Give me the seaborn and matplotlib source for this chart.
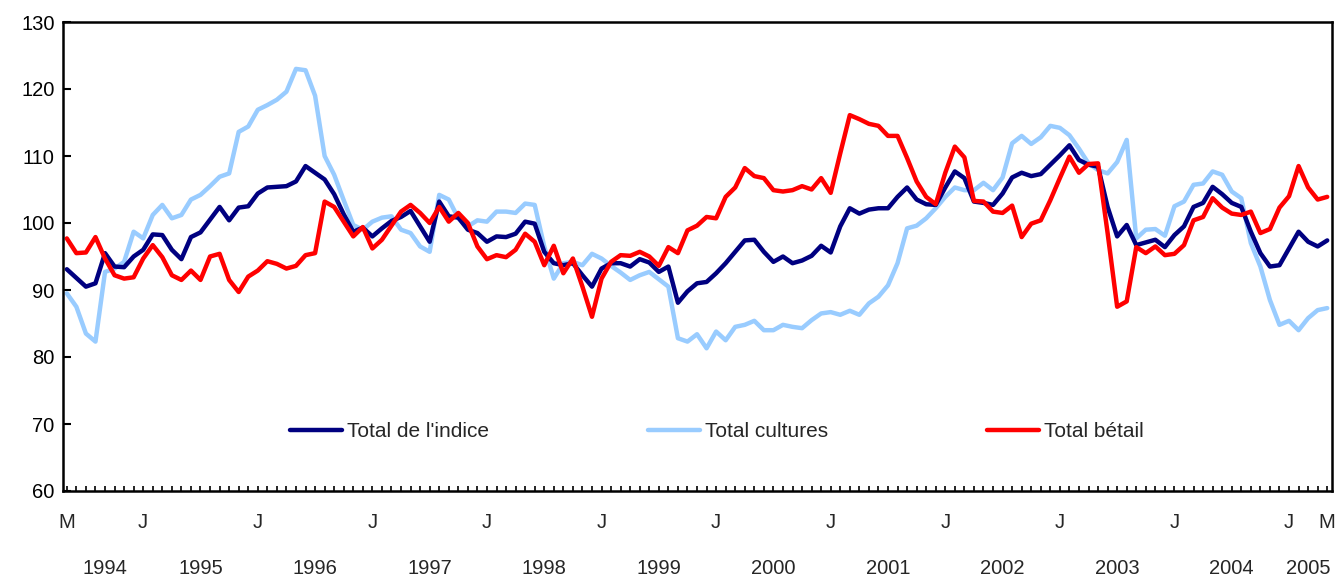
import pandas as pd
import matplotlib.pyplot as plt
import matplotlib.transforms as mtransforms
import seaborn as sns

# mai 1994 -> mai 2005, données mensuelles
mois = pd.date_range('1994-05-01', periods=133, freq='MS')

indice = [93.1, 91.8, 90.5, 91.0, 95.5, 93.5, 93.4, 95.0, 96.0, 98.3,
          98.2, 96.0, 94.6, 97.9, 98.6, 100.5, 102.4, 100.4, 102.3, 102.5,
          104.4, 105.3, 105.4, 105.5, 106.2, 108.5, 107.5, 106.5, 104.3, 101.3,
          98.7, 99.3, 98.0, 99.2, 100.3, 100.9, 101.8, 99.5, 97.2, 103.2,
          101.0, 100.8, 99.0, 98.5, 97.2, 98.0, 97.9, 98.4, 100.2, 99.9,
          95.7, 94.0, 93.7, 94.0, 92.2, 90.5, 93.2, 94.0, 94.0, 93.5,
          94.6, 94.1, 92.7, 93.5, 88.1, 89.8, 91.0, 91.2, 92.5, 94.0,
          95.7, 97.4, 97.5, 95.7, 94.2, 95.0, 94.0, 94.4, 95.1, 96.6,
          95.6, 99.5, 102.2, 101.4, 102.0, 102.2, 102.2, 103.9, 105.3, 103.5,
          102.8, 102.7, 105.3, 107.7, 106.7, 103.2, 103.0, 102.7, 104.4, 106.8,
          107.5, 107.0, 107.3, 108.7, 110.1, 111.6, 109.4, 108.7, 108.4, 102.4,
          98.0, 99.7, 96.7, 97.1, 97.5, 96.4, 98.2, 99.5, 102.4, 103.0,
          105.4, 104.3, 103.0, 102.4, 98.7, 95.5, 93.5, 93.7, 96.2, 98.7,
          97.2, 96.5, 97.4]

cultures = [89.5, 87.5, 83.5, 82.3, 92.7, 93.2, 94.2, 98.7, 97.7, 101.2,
            102.7, 100.7, 101.2, 103.5, 104.2, 105.5, 106.9, 107.4, 113.6, 114.4,
            116.9, 117.6, 118.4, 119.6, 123.0, 122.8, 119.0, 110.0, 107.2, 103.4,
            99.7, 99.0, 100.2, 100.8, 101.0, 99.0, 98.5, 96.5, 95.7, 104.2,
            103.5, 100.7, 99.5, 100.4, 100.2, 101.7, 101.7, 101.5, 102.9, 102.7,
            96.5, 91.7, 94.0, 94.2, 93.7, 95.4, 94.7, 93.6, 92.6, 91.5,
            92.2, 92.7, 91.6, 90.5, 82.8, 82.3, 83.4, 81.3, 83.8, 82.5,
            84.5, 84.8, 85.4, 84.0, 84.0, 84.8, 84.5, 84.3, 85.5, 86.5,
            86.7, 86.3, 86.9, 86.3, 88.0, 89.0, 90.7, 94.0, 99.2, 99.6,
            100.7, 102.2, 103.9, 105.3, 104.9, 104.9, 106.0, 104.9, 106.8, 111.9,
            113.0, 111.8, 112.8, 114.5, 114.2, 113.1, 111.1, 108.9, 107.9, 107.4,
            109.1, 112.4, 97.7, 99.0, 99.1, 98.1, 102.5, 103.2, 105.7, 105.9,
            107.7, 107.2, 104.7, 103.7, 97.0, 93.5, 88.5, 84.8, 85.4, 84.0,
            85.8, 87.0, 87.3]

betail = [97.7, 95.5, 95.6, 97.9, 94.7, 92.2, 91.7, 91.9, 94.7, 96.7,
          94.9, 92.2, 91.5, 92.9, 91.5, 95.0, 95.4, 91.5, 89.7, 92.0,
          92.9, 94.3, 93.9, 93.2, 93.6, 95.2, 95.5, 103.2, 102.4, 100.2,
          98.0, 99.4, 96.2, 97.5, 99.6, 101.7, 102.7, 101.5, 100.0, 102.4,
          100.2, 101.5, 100.0, 96.5, 94.6, 95.2, 94.9, 96.0, 98.4, 97.2,
          93.7, 96.6, 92.5, 94.7, 90.5, 86.0, 91.7, 94.2, 95.2, 95.1,
          95.7, 95.0, 93.6, 96.4, 95.5, 98.9, 99.6, 100.9, 100.7, 103.9,
          105.3, 108.2, 107.0, 106.7, 104.9, 104.7, 104.9, 105.5, 105.0, 106.7,
          104.5, 110.4, 116.1, 115.5, 114.8, 114.5, 113.0, 113.0, 109.7, 106.2,
          103.9, 102.8, 107.5, 111.4, 109.8, 103.3, 103.2, 101.7, 101.5, 102.6,
          97.9, 99.9, 100.4, 103.4, 106.7, 109.9, 107.5, 108.8, 108.9, 98.5,
          87.5, 88.3, 96.4, 95.5, 96.5, 95.2, 95.4, 96.7, 100.4, 100.9,
          103.7, 102.3, 101.4, 101.2, 101.7, 98.5, 99.1, 102.3, 104.0, 108.5,
          105.3, 103.5, 103.9]

noms = ["Total de l'indice", "Total cultures", "Total bétail"]
couleurs = {noms[0]: '#000080', noms[1]: '#99CCFF', noms[2]: '#FF0000'}

df = pd.DataFrame({'rang': range(len(mois)),
                   noms[0]: indice, noms[1]: cultures, noms[2]: betail})
long = df.melt(id_vars='rang', var_name='serie', value_name='valeur')

sns.set_style('white')
plt.rcParams['font.family'] = ['Liberation Sans', 'DejaVu Sans']

W, H = 1335, 579
LW = 3.2
fig = plt.figure(figsize=(W / 100, H / 100), dpi=100)
ax = fig.add_axes([63 / W, 1 - 491 / H, (1332 - 63) / W, (491 - 22) / H])

# cultures dessous, bétail dessus
sns.lineplot(data=long, x='rang', y='valeur', hue='serie',
             hue_order=[noms[1], noms[0], noms[2]], palette=couleurs,
             linewidth=LW, legend=False, ax=ax)

ax.set_xlim(-0.4, 132.5)
ax.set_ylim(60, 130)
ax.set_yticks(range(60, 131, 10))
ax.set_xticks(range(len(mois)))
ax.set_xticklabels([])
ax.set_xlabel('')
ax.set_ylabel('')
ax.tick_params(axis='y', left=True, direction='in', length=6, width=1.5, pad=6,
               labelsize=14.5, colors='black')
ax.tick_params(axis='x', bottom=True, direction='in', length=3.8, width=1.2,
               colors='black')
for s in ax.spines.values():
    s.set_visible(True)
    s.set_color('black')
    s.set_linewidth(1.8)

trans = mtransforms.blended_transform_factory(ax.transData, ax.transAxes)
last = len(mois) - 1
for i, d in enumerate(mois):
    lab = ''
    if i == 0 or i == last:
        lab = 'M'
    elif d.month == 1:
        lab = 'J'
    if lab:
        ax.text(i, -0.068, lab, transform=trans, ha='center', va='center',
                fontsize=14.5)

bornes = [0] + [i for i, d in enumerate(mois) if d.month == 1] + [last]
for a, b in zip(bornes[:-1], bornes[1:]):
    ax.text((a + b) / 2, -0.166, str(mois[a + 1 if a == 0 else a].year),
            transform=trans, ha='center', va='center', fontsize=14.5)

hs = [plt.Line2D([], [], color=couleurs[n], linewidth=LW) for n in noms]
ax.legend(hs, noms, loc='center left', bbox_to_anchor=(0.179, 0.126),
          ncol=3, frameon=False, fontsize=15, handlelength=2.5,
          handletextpad=0.25, columnspacing=7.6, borderpad=0, borderaxespad=0)

fig.savefig('out.png', dpi=100)
